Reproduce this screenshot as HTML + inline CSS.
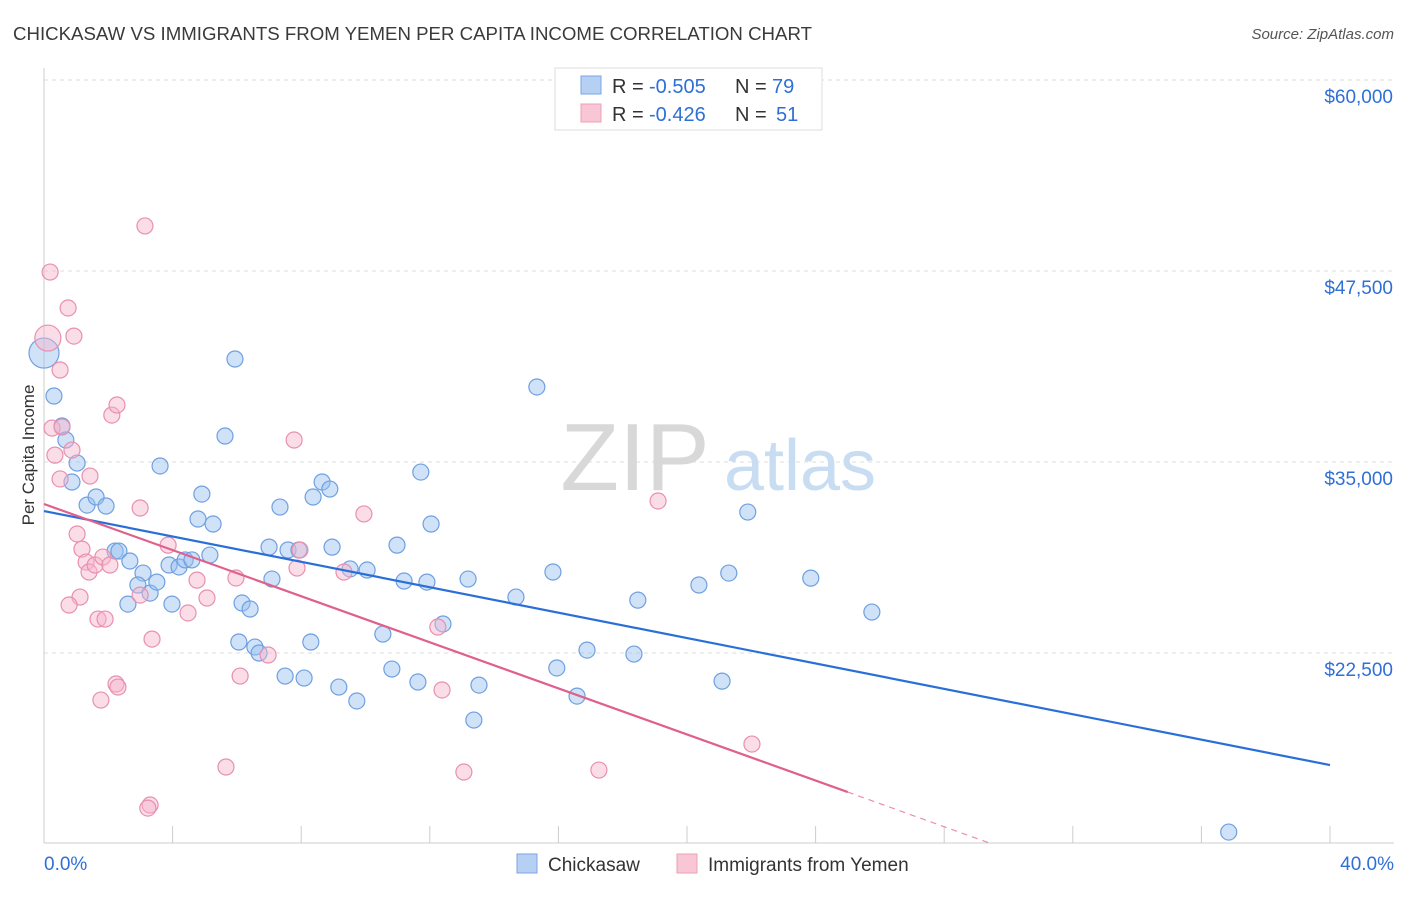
<!DOCTYPE html>
<html><head><meta charset="utf-8"><style>
body{margin:0;background:#fff;font-family:"Liberation Sans",sans-serif;}
svg text{font-family:"Liberation Sans",sans-serif;}
</style></head><body>
<svg id="chart" width="1406" height="892" xmlns="http://www.w3.org/2000/svg">
<text x="13" y="40" font-size="18" fill="#3a3a3a" textLength="799" lengthAdjust="spacingAndGlyphs">CHICKASAW VS IMMIGRANTS FROM YEMEN PER CAPITA INCOME CORRELATION CHART</text>
<text x="1394" y="39" font-size="15" fill="#555" font-style="italic" text-anchor="end">Source: ZipAtlas.com</text>
<g id="grid"></g>
<g>
<text x="635" y="490" font-size="96" fill="#d8d8d8" font-family="Liberation Serif" text-anchor="middle">ZIP</text>
<text x="800" y="490" font-size="72" fill="#c8dcf2" text-anchor="middle">atlas</text>
</g>
<text transform="translate(34,455) rotate(-90)" font-size="17" fill="#333" text-anchor="middle">Per Capita Income</text>
<g id="pts"></g>
<g id="lines"></g>
<g>
<rect x="555" y="68" width="267" height="62" fill="#fff" stroke="#ddd"/>
<rect x="581" y="76" width="20" height="18" fill="#b6d0f4" stroke="#7aa6e4"/>
<rect x="581" y="104" width="20" height="18" fill="#f9c6d6" stroke="#eba0b8"/>
<text x="612" y="93" font-size="20" fill="#333">R =</text>
<text x="649" y="93" font-size="20" fill="#2f6fd6">-0.505</text>
<text x="735" y="93" font-size="20" fill="#333">N =</text>
<text x="772" y="93" font-size="20" fill="#2f6fd6">79</text>
<text x="612" y="121" font-size="20" fill="#333">R =</text>
<text x="649" y="121" font-size="20" fill="#2f6fd6">-0.426</text>
<text x="735" y="121" font-size="20" fill="#333">N =</text>
<text x="776" y="121" font-size="20" fill="#2f6fd6">51</text>
</g>
<g>
<rect x="517" y="854" width="20" height="19" fill="#b6d0f4" stroke="#7aa6e4"/>
<text x="548" y="871" font-size="19" fill="#333">Chickasaw</text>
<rect x="677" y="854" width="20" height="19" fill="#f9c6d6" stroke="#eba0b8"/>
<text x="708" y="871" font-size="19" fill="#333">Immigrants from Yemen</text>
</g>
</svg>
<script>
const yTicks=[60000,47500,35000,22500];
const yTickLabels=["$60,000","$47,500","$35,000","$22,500"];
const xTickLabels=["0.0%","40.0%"];
const blueX=[0,0.31,0.56,0.68,1.03,0.87,1.34,1.62,1.93,2.21,2.33,2.67,3.08,2.61,2.92,3.30,3.51,3.61,3.89,3.98,4.20,4.39,4.60,4.91,4.79,5.16,5.26,5.63,5.94,6.06,6.16,6.41,6.56,6.69,7.00,7.09,7.34,7.50,7.59,7.93,8.09,8.30,8.37,8.65,8.89,8.96,9.17,9.52,9.73,10.05,10.54,10.82,10.98,11.20,11.63,11.72,11.91,12.04,12.41,13.19,13.37,13.53,14.68,15.33,15.83,15.95,16.58,16.89,18.35,18.47,20.37,21.09,21.30,21.89,23.85,25.75,36.85];
const blueY=[42130,39320,37360,36440,34930,33690,32180,32710,32120,29170,29170,28520,27730,25700,26950,26420,27140,34740,28260,25700,28130,28590,28590,32900,31270,28910,30940,36700,41740,23220,25770,25380,22890,22500,29430,27340,32050,20990,29240,29240,20860,23220,32710,33690,33230,29430,20270,28000,19360,27930,23740,21450,29560,27210,20600,34340,27140,30940,24400,27340,18110,20400,26160,39910,27800,21520,19680,22690,22430,25960,26950,20660,27730,31725,27400,25180,10780];
const pinkX=[0.12,0.19,0.75,0.93,0.50,0.25,0.56,0.34,0.87,0.50,1.43,1.03,1.18,1.31,1.40,1.59,1.12,0.78,1.68,1.90,2.11,2.27,1.83,2.05,2.24,2.30,1.77,2.99,3.14,2.99,3.36,3.30,3.23,3.86,4.48,4.76,5.07,5.66,5.97,6.10,6.97,7.78,7.87,7.96,9.33,9.95,12.25,12.38,13.06,17.26,19.10,22.02];
const pinkY=[43110,47430,45080,43240,41020,37220,37290,35450,35780,33890,34080,30290,29300,28450,27800,28260,26160,25640,24720,24720,38070,38730,28780,28260,20470,20270,19420,31990,50450,26290,23410,12550,12350,29560,25120,27270,26100,15040,27410,20990,22370,36440,28060,29240,27800,31600,24200,20080,14710,14840,32450,16540];
const blueLine=[[0,31790],[40,15167]];
const pinkLine=[[0,32250],[25,13400]];
const pinkDash=[[25,13400],[29.4,10070]];

const NS="http://www.w3.org/2000/svg";
const X=v=>44+v/40*1286;
const Y=v=>80+(60000-v)*191/12500;
function mk(tag,attrs,parent){const e=document.createElementNS(NS,tag);for(const k in attrs)e.setAttribute(k,attrs[k]);parent.appendChild(e);return e;}
const grid=document.getElementById('grid');
yTicks.forEach((t,i)=>{
 const l=mk('line',{x1:44,x2:1394,y1:Y(t),y2:Y(t),stroke:'#ddd','stroke-dasharray':'4,4'},grid);
 
 
 const tx=mk('text',{x:1393,y:Y(t)+23,'font-size':19,fill:'#2f6fd6','text-anchor':'end'},grid);
 tx.textContent=yTickLabels[i];
 
 
});
const ax=mk('line',{x1:44,x2:1394,y1:843,y2:843,stroke:'#ccc'},grid);


const ay=mk('line',{x1:44,x2:44,y1:68,y2:843,stroke:'#ccc'},grid);


for(let i=0;i<=40;i+=4){
 const t=mk('line',{x1:X(i),x2:X(i),y1:826,y2:843,stroke:'#ccc'},grid);
 
 
}
[[0,'start',44],[40,'end',1394]].forEach((d,i)=>{
 const tx=mk('text',{x:d[2],y:870,'font-size':19,fill:'#2f6fd6','text-anchor':d[1]},grid);
 tx.textContent=xTickLabels[i];
 
 
});
const pts=document.getElementById('pts');
blueX.forEach((x,i)=>{
 const c=mk('circle',{cx:X(x),cy:Y(blueY[i]),r:i===0?15:8,fill:'rgba(150,190,240,0.45)',stroke:'#6fa0e0','stroke-width':1.2},pts);
 
 
});
pinkX.forEach((x,i)=>{
 const c=mk('circle',{cx:X(x),cy:Y(pinkY[i]),r:i===0?13:8,fill:'rgba(246,180,204,0.45)',stroke:'#e890ae','stroke-width':1.2},pts);
 
 
});
const lines=document.getElementById('lines');
const bl=mk('line',{x1:X(blueLine[0][0]),y1:Y(blueLine[0][1]),x2:X(blueLine[1][0]),y2:Y(blueLine[1][1]),stroke:'#2a6fd8','stroke-width':2.2},lines);


const pl=mk('line',{x1:X(pinkLine[0][0]),y1:Y(pinkLine[0][1]),x2:X(pinkLine[1][0]),y2:Y(pinkLine[1][1]),stroke:'#e0608c','stroke-width':2.2},lines);


const pd=mk('line',{x1:X(pinkDash[0][0]),y1:Y(pinkDash[0][1]),x2:X(pinkDash[1][0]),y2:Y(pinkDash[1][1]),stroke:'#e890ae','stroke-width':1.2,'stroke-dasharray':'6,5'},lines);


</script>
</body></html>
